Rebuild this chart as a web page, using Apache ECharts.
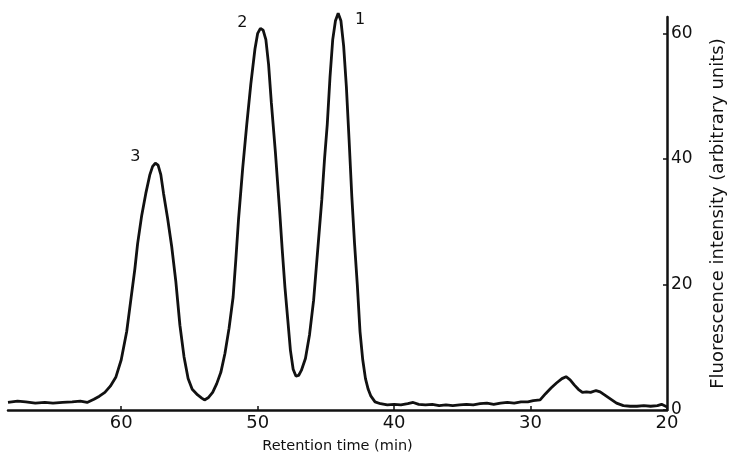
<!DOCTYPE html>
<html>
<head>
<meta charset="utf-8">
<script src="https://cdn.jsdelivr.net/npm/echarts@6/dist/echarts.min.js"></script>
<style>
    html, body { margin: 0; padding: 0; background: #fff; }
    #chart { width: 735px; height: 460px; }
</style>
</head>
<body>
<div id="chart"></div>
<script>

// retention time (min), left to right on the reversed axis
const retentionTime = [
    68.3, 67.6, 67.0, 66.3, 65.6, 65.0, 64.3, 63.6, 63.0, 62.5, 62.0, 61.6, 61.2, 60.8, 60.4, 60.0,
    59.6, 59.3, 59.0, 58.8, 58.5, 58.2, 57.9, 57.7, 57.5, 57.3, 57.1, 56.9, 56.6, 56.3, 56.0, 55.7,
    55.4, 55.1, 54.8, 54.4, 54.1, 53.9, 53.6, 53.3, 53.0, 52.7, 52.4, 52.1, 51.8, 51.6, 51.4, 51.1,
    50.8, 50.5, 50.2, 50.0, 49.8, 49.6, 49.4, 49.2, 49.0, 48.7, 48.4, 48.2, 48.0, 47.8, 47.6, 47.4,
    47.2, 47.0, 46.8, 46.5, 46.2, 45.9, 45.6, 45.3, 45.1, 44.9, 44.7, 44.5, 44.3, 44.1, 43.9, 43.7,
    43.5, 43.3, 43.1, 42.9, 42.7, 42.5, 42.3, 42.1, 41.9, 41.7, 41.4, 41.0, 40.5, 40.0, 39.5, 39.0,
    38.6, 38.2, 37.7, 37.2, 36.7, 36.2, 35.7, 35.2, 34.7, 34.2, 33.7, 33.2, 32.7, 32.2, 31.7, 31.2,
    30.7, 30.2, 29.8, 29.3, 28.9, 28.5, 28.1, 27.7, 27.4, 27.1, 26.8, 26.5, 26.2, 25.9, 25.6, 25.2,
    24.9, 24.5, 24.1, 23.7, 23.2, 22.7, 22.2, 21.7, 21.2, 20.7, 20.4, 20.1, 20.0
];

// fluorescence intensity (arbitrary units)
const intensity = [
    1.2, 1.4, 1.3, 1.1, 1.2, 1.1, 1.2, 1.3, 1.4, 1.2, 1.7, 2.2, 2.8, 3.8, 5.2, 8.0,
    12.5, 17.5, 22.5, 26.5, 31.0, 34.5, 37.5, 38.8, 39.3, 39.0, 37.5, 34.5, 30.5, 26.0, 20.5, 13.5,
    8.5, 5.0, 3.3, 2.4, 1.9, 1.6, 2.0, 2.8, 4.2, 6.0, 9.0, 13.0, 18.0, 24.0, 30.5, 38.5,
    45.5, 52.0, 57.5, 60.0, 60.8, 60.5, 59.0, 55.0, 49.0, 41.0, 32.0, 25.5, 19.5, 14.5, 9.5, 6.5,
    5.4, 5.5, 6.3, 8.2, 12.0, 17.5, 25.5, 33.5, 40.0, 45.5, 53.0, 59.0, 62.0, 63.2, 62.0, 58.0,
    51.5, 43.0, 34.0, 26.5, 20.0, 12.5, 8.0, 5.0, 3.3, 2.2, 1.3, 1.0, 0.8, 0.9, 0.8, 1.0,
    1.2, 0.9, 0.8, 0.9, 0.7, 0.8, 0.7, 0.8, 0.9, 0.8, 1.0, 1.1, 0.9, 1.1, 1.2, 1.1,
    1.3, 1.3, 1.5, 1.6, 2.6, 3.5, 4.3, 5.0, 5.3, 4.8, 4.0, 3.3, 2.8, 2.9, 2.8, 3.1,
    2.9, 2.3, 1.7, 1.1, 0.7, 0.6, 0.6, 0.7, 0.6, 0.7, 0.9, 0.6, 0.5
];

// numbered peaks
const peakNames = ['1', '2', '3'];
const peakTimes = [44.1, 49.8, 57.5];
const peakHeights = [63.2, 60.8, 39.3];

const xTicks = [20, 30, 40, 50, 60];
const yTicks = [0, 20, 40, 60];

const font = '"DejaVu Sans", sans-serif';
const ink = '#111';

// where each peak number sits next to its peak
const peakLabelOffset = {
    '1': [22, 7],
    '2': [-18, -5],
    '3': [-20, -6]
};

const chart = echarts.init(document.getElementById('chart'));

const option = {
    backgroundColor: '#fff',
    animation: false,
    grid: {
        left: 8,
        right: 59,
        top: 17,
        bottom: 50
    },
    xAxis: {
        type: 'value',
        inverse: true,
        min: 20,
        max: 68.3,
        name: 'Retention time (min)',
        nameLocation: 'middle',
        nameGap: 29,
        nameTextStyle: { color: ink, fontFamily: font, fontSize: 14.5 },
        axisLine: { lineStyle: { color: ink, width: 2.5 } },
        axisTick: { inside: true, length: 4, customValues: xTicks, lineStyle: { color: ink, width: 1.5 } },
        axisLabel: { customValues: xTicks, color: ink, fontFamily: font, fontSize: 18, margin: 4 },
        splitLine: { show: false }
    },
    yAxis: {
        type: 'value',
        position: 'right',
        min: 0,
        max: 62.6,
        name: 'Fluorescence intensity (arbitrary units)',
        nameLocation: 'middle',
        nameRotate: 90,
        nameGap: 42,
        nameTextStyle: { color: ink, fontFamily: font, fontSize: 18 },
        axisLine: { show: true, lineStyle: { color: ink, width: 2.5 } },
        axisTick: { inside: true, length: 4, customValues: yTicks, lineStyle: { color: ink, width: 1.5 } },
        axisLabel: { customValues: yTicks, color: ink, fontFamily: font, fontSize: 17, margin: 4 },
        splitLine: { show: false }
    },
    series: [
        {
            type: 'line',
            data: retentionTime.map((t, i) => [t, intensity[i]]),
            showSymbol: false,
            clip: false,
            lineStyle: { color: ink, width: 2.8 }
        },
        {
            type: 'scatter',
            symbolSize: 0,
            clip: false,
            itemStyle: { opacity: 1, color: ink },
            data: peakNames.map((n, i) => ({
                value: [peakTimes[i], peakHeights[i]],
                name: n,
                label: { offset: peakLabelOffset[n] }
            })),
            label: {
                show: true,
                position: 'inside',
                formatter: '{b}',
                color: ink,
                textBorderWidth: 0,
                fontFamily: font,
                fontSize: 16
            }
        }
    ]
};

option && chart.setOption(option);

</script>
</body>
</html>
